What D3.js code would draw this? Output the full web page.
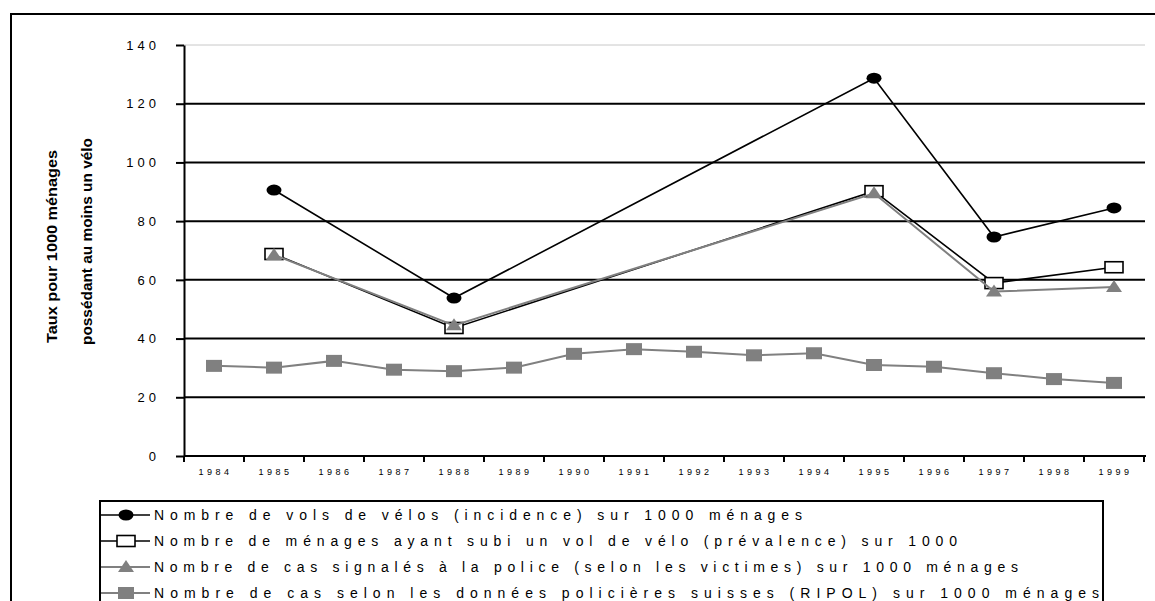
<!DOCTYPE html>
<html><head><meta charset="utf-8">
<script src="https://cdn.jsdelivr.net/npm/d3@7"></script>
<style>body{margin:0;background:#fff}svg{display:block;font-family:"Liberation Sans",Arial,sans-serif}</style>
</head><body><svg id="c" width="1155" height="601"></svg>
<script>
const years = ["1984","1985","1986","1987","1988","1989","1990","1991","1992","1993","1994","1995","1996","1997","1998","1999"];
const surveyYears = ["1985","1988","1995","1997","1999"];
const incidence = [90.6, 53.8, 128.7, 74.6, 84.5];
const prevalence = [68.8, 43.6, 90.2, 58.9, 64.3];
const reported = [68.5, 44.5, 89.5, 56.0, 57.6];
const ripol = [30.7, 30.1, 32.4, 29.4, 28.9, 30.1, 34.8, 36.4, 35.5, 34.3, 35.0, 31.0, 30.4, 28.2, 26.2, 24.9];
const yTicks = [0, 20, 40, 60, 80, 100, 120, 140];
const legendLabels = [
  "Nombre de vols de vélos (incidence) sur 1000 ménages",
  "Nombre de ménages ayant subi un vol de vélo (prévalence) sur 1000",
  "Nombre de cas signalés à la police (selon les victimes) sur 1000 ménages",
  "Nombre de cas selon les données policières suisses (RIPOL) sur 1000 ménages"
];
const yTitle = ["Taux pour 1000 ménages", "possédant au moins un vélo"];

const svg = d3.select("#c");
const gray = "#808080";
// outer frame
svg.append("rect").attr("x",11).attr("y",14).attr("width",1160).attr("height",620)
  .attr("fill","none").attr("stroke","#000").attr("stroke-width",2);

const x = d3.scaleBand().domain(years).range([184,1144]);
const y = d3.scaleLinear().domain([0,140]).range([456,45]);

// gridlines
svg.append("g").selectAll("line").data(yTicks.filter(d=>d>0)).join("line")
  .attr("x1",184).attr("x2",1145).attr("y1",d=>y(d)).attr("y2",d=>y(d))
  .attr("stroke",d=>d===140?"#c8c8c8":"#000").attr("stroke-width",d=>d===140?1:2);

// y axis
const ya = svg.append("g").attr("transform","translate(184,0)")
  .call(d3.axisLeft(y).tickValues(yTicks).tickSize(8).tickSizeOuter(0).tickFormat(d=>d));
ya.select(".domain").attr("stroke-width",2);
ya.selectAll(".tick line").attr("stroke-width",2);
ya.selectAll(".tick text").attr("font-size",13).attr("x",-24).attr("letter-spacing","4px")
  .attr("fill","#000");

// x axis
const xa = svg.append("g").attr("transform","translate(0,456)")
  .call(d3.axisBottom(x).tickSize(0).tickSizeOuter(0));
xa.select(".domain").attr("stroke-width",2).attr("d","M184,0H1146");
xa.selectAll(".tick text").attr("font-size",9).attr("y",13).attr("letter-spacing","3.5px")
  .attr("dx","1.5px").attr("fill","#000");
svg.append("g").selectAll("line").data(years.concat(["end"])).join("line")
  .attr("x1",(d,i)=>184+i*x.bandwidth()).attr("x2",(d,i)=>184+i*x.bandwidth())
  .attr("y1",456).attr("y2",462).attr("stroke","#000").attr("stroke-width",2);

// y title
const titleLen = [193, 207];
const titleCy = [246.5, 241.5];
yTitle.forEach((t,i)=>{
  svg.append("text").attr("transform",`translate(${57+i*35},${titleCy[i]}) rotate(-90)`)
    .attr("text-anchor","middle").attr("font-size",15).attr("font-weight","bold")
    .attr("textLength",titleLen[i]).attr("lengthAdjust","spacingAndGlyphs").text(t);
});

const cx = d => x(d)+x.bandwidth()/2;
const line = d3.line().x(d=>cx(d[0])).y(d=>y(d[1]));
const pair = (ks,vs)=>ks.map((k,i)=>[k,vs[i]]);

const series = [
  {data:pair(surveyYears,incidence), color:"#000", w:1.6, mark:"circle"},
  {data:pair(surveyYears,prevalence), color:"#000", w:1.6, mark:"open"},
  {data:pair(surveyYears,reported), color:gray, w:2, mark:"tri"},
  {data:pair(years,ripol), color:gray, w:2, mark:"square"}
];
function drawMark(g, mark, px, py){
  if(mark==="circle") g.append("ellipse").attr("cx",px).attr("cy",py).attr("rx",7.5).attr("ry",5.5).attr("fill","#000");
  else if(mark==="open") g.append("rect").attr("x",px-9).attr("y",py-5.5).attr("width",18).attr("height",11).attr("fill","#fff").attr("stroke","#000").attr("stroke-width",1.6);
  else if(mark==="tri") g.append("path").attr("d",`M${px},${py-7}L${px+8},${py+5}L${px-8},${py+5}Z`).attr("fill",gray);
  else g.append("rect").attr("x",px-8).attr("y",py-6).attr("width",16).attr("height",12).attr("fill",gray);
}
// draw order: ripol, incidence, prevalence, reported
[3,0,1,2].forEach(si=>{
  const s = series[si];
  const g = svg.append("g");
  g.append("path").attr("d",line(s.data)).attr("fill","none").attr("stroke",s.color).attr("stroke-width",s.w);
  s.data.forEach(d=>drawMark(g,s.mark,cx(d[0]),y(d[1])));
});

// legend
svg.append("rect").attr("x",100).attr("y",501).attr("width",1003).attr("height",120)
  .attr("fill","#fff").attr("stroke","#000").attr("stroke-width",2);
const legY = [515, 541, 567, 593];
const legEnd = [802, 957, 1018, 1099];
legendLabels.forEach((t,i)=>{
  const s = series[i];
  const g = svg.append("g");
  g.append("line").attr("x1",101).attr("x2",150).attr("y1",legY[i]).attr("y2",legY[i])
    .attr("stroke",s.color).attr("stroke-width",s.w);
  drawMark(g, s.mark, 126, legY[i]);
  g.append("text").attr("x",154).attr("y",legY[i]+5).attr("font-size",14)
    .attr("textLength",legEnd[i]-154).attr("lengthAdjust","spacing").text(t);
});
</script></body></html>
